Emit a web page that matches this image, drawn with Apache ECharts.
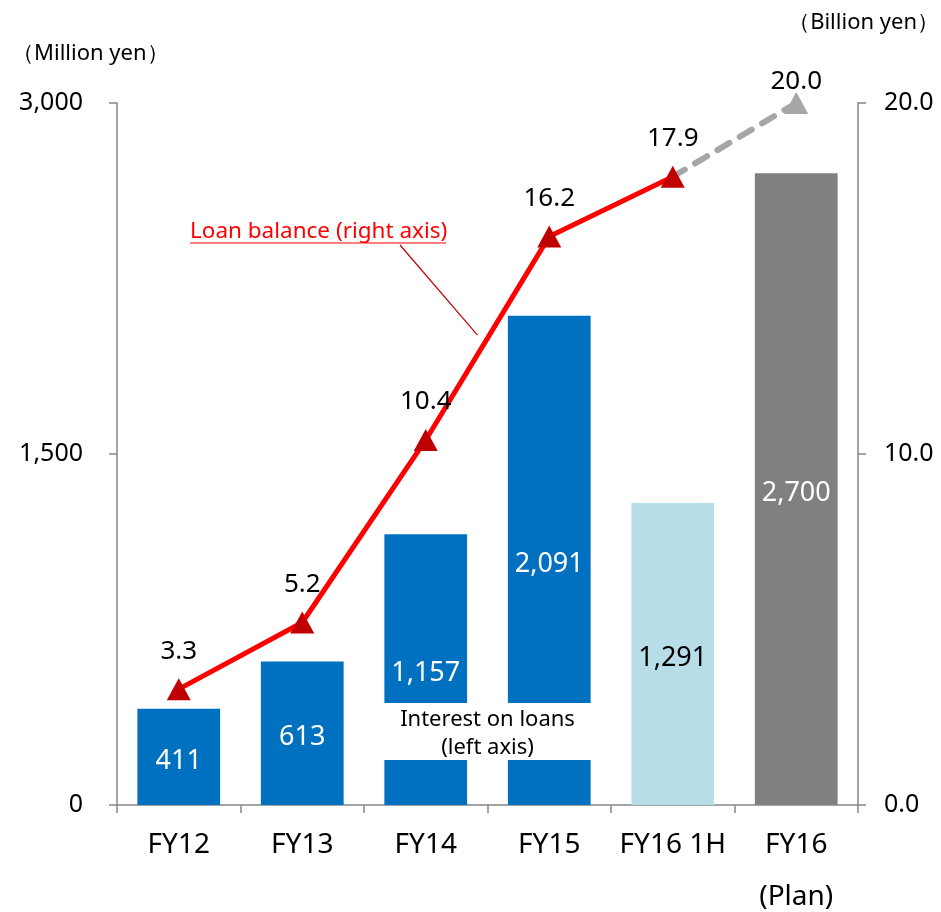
<!DOCTYPE html>
<html>
<head>
<meta charset="utf-8">
<script src="https://cdn.jsdelivr.net/npm/echarts@6/dist/echarts.min.js"></script>
<style>
  html, body { margin: 0; padding: 0; background: #fff; }
  #chart { width: 941px; height: 912px; }
</style>
</head>
<body>
<div id="chart"></div>
<script>
// data
const categories = ['FY12', 'FY13', 'FY14', 'FY15', 'FY16 1H', 'FY16\n\n(Plan)']
const interest = [411, 613, 1157, 2091, 1291, 2700]
const barColors = ['#0070C0', '#0070C0', '#0070C0', '#0070C0', '#B7DEE8', '#808080']
const barLabelColors = ['#fff', '#fff', '#fff', '#fff', '#000', '#fff']
const loanActual = [3.3, 5.2, 10.4, 16.2, 17.9, '-']
const loanPlan = ['-', '-', '-', '-', 17.9, 20.0]

const FONT = '"Noto Sans", sans-serif'
const chart = echarts.init(document.getElementById('chart'))

const option = {
  animation: false,
  textStyle: { fontFamily: FONT },
  grid: { left: 117, right: 83, top: 103, bottom: 107 },
  xAxis: {
    type: 'category',
    data: categories,
    axisLine: { lineStyle: { color: '#868686', width: 1.5 } },
    axisTick: { show: true, length: 8, lineStyle: { color: '#868686', width: 1.5 } },
    axisLabel: { color: '#000', fontSize: 28, margin: 27, lineHeight: 26, interval: 0, fontFamily: FONT }
  },
  yAxis: [
    {
      type: 'value', min: 0, max: 3000, interval: 1500,
      splitLine: { show: false },
      axisLine: { show: true, lineStyle: { color: '#868686', width: 1.5 } },
      axisTick: { show: true, length: 8, lineStyle: { color: '#868686', width: 1.5 } },
      axisLabel: {
        color: '#000', fontSize: 25, margin: 34, fontFamily: FONT,
        formatter: v => v.toLocaleString('en-US')
      }
    },
    {
      type: 'value', min: 0, max: 20, interval: 10,
      splitLine: { show: false },
      axisLine: { show: true, lineStyle: { color: '#868686', width: 1.5 } },
      axisTick: { show: true, length: 8, lineStyle: { color: '#868686', width: 1.5 } },
      axisLabel: {
        color: '#000', fontSize: 25, margin: 26, fontFamily: FONT,
        formatter: v => v.toFixed(1)
      }
    }
  ],
  series: [
    {
      name: 'Interest on loans',
      type: 'bar',
      barWidth: '67%',
      data: interest.map((v, i) => ({
        value: v,
        itemStyle: { color: barColors[i] },
        label: { color: barLabelColors[i] }
      })),
      label: {
        show: true, position: 'inside', offset: [0, 4], fontSize: 27, fontFamily: FONT,
        formatter: p => p.value.toLocaleString('en-US')
      },
      z: 2
    },
    {
      name: 'Loan balance plan',
      type: 'line',
      yAxisIndex: 1,
      data: loanPlan,
      lineStyle: { color: '#A6A6A6', width: 6, type: [14, 12], cap: 'round' },
      symbol: (v, p) => p.dataIndex === 5 ? 'triangle' : 'none',
      symbolSize: [24, 22],
      itemStyle: { color: '#A6A6A6' },
      label: {
        show: true, position: 'top', distance: -3, color: '#000', fontSize: 26, fontFamily: FONT,
        formatter: p => p.dataIndex === 5 ? p.value.toFixed(1) : ''
      },
      z: 3
    },
    {
      name: 'Loan balance',
      type: 'line',
      yAxisIndex: 1,
      data: loanActual,
      lineStyle: { color: '#FF0000', width: 5 },
      symbol: 'triangle',
      symbolSize: [24, 22],
      itemStyle: { color: '#C00000' },
      label: {
        show: true, position: 'top', distance: 14, color: '#000', fontSize: 26, fontFamily: FONT,
        formatter: p => p.value.toFixed(1)
      },
      z: 4
    }
  ]
}
chart.setOption(option)

// annotations placed from the axes
const p14 = chart.convertToPixel({ xAxisIndex: 0, yAxisIndex: 1 }, [2, loanActual[2]])
const p15 = chart.convertToPixel({ xAxisIndex: 0, yAxisIndex: 1 }, [3, loanActual[3]])
const band = p15[0] - p14[0]
const boxTop = chart.convertToPixel({ yAxisIndex: 0 }, 436)
const boxBottom = chart.convertToPixel({ yAxisIndex: 0 }, 192)
const t = 0.5
const leadEnd = [p14[0] + (p15[0] - p14[0]) * t - 10, p14[1] + (p15[1] - p14[1]) * t - 3]

chart.setOption({
  graphic: [
    {
      type: 'rect', z: 10,
      shape: {
        x: p14[0] - band * 0.36, y: boxTop,
        width: band * 1.72, height: boxBottom - boxTop
      },
      style: { fill: '#fff' }
    },
    {
      type: 'text', z: 11,
      x: (p14[0] + p15[0]) / 2, y: (boxTop + boxBottom) / 2 + 2,
      style: {
        text: 'Interest on loans\n(left axis)', align: 'center', verticalAlign: 'middle',
        font: '22px ' + FONT, fill: '#000', lineHeight: 28
      }
    },
    {
      type: 'text', z: 11, x: 190, y: 232,
      style: {
        text: 'Loan balance (right axis)', verticalAlign: 'middle',
        font: '22.5px ' + FONT, fill: '#FF0000'
      }
    },
    {
      type: 'line', z: 11,
      shape: { x1: 190, y1: 243, x2: 446, y2: 243 },
      style: { stroke: '#FF0000', lineWidth: 1.2 }
    },
    {
      type: 'line', z: 11,
      shape: { x1: 400, y1: 245, x2: leadEnd[0], y2: leadEnd[1] },
      style: { stroke: '#C00000', lineWidth: 1.2 }
    },
    {
      type: 'text', z: 11, x: 12, y: 54,
      style: { text: '（Million yen）', verticalAlign: 'middle', font: '22px ' + FONT, fill: '#000' }
    },
    {
      type: 'text', z: 11, x: 939, y: 23,
      style: { text: '（Billion yen）', align: 'right', verticalAlign: 'middle', font: '22px ' + FONT, fill: '#000' }
    }
  ]
})
</script>
</body>
</html>
